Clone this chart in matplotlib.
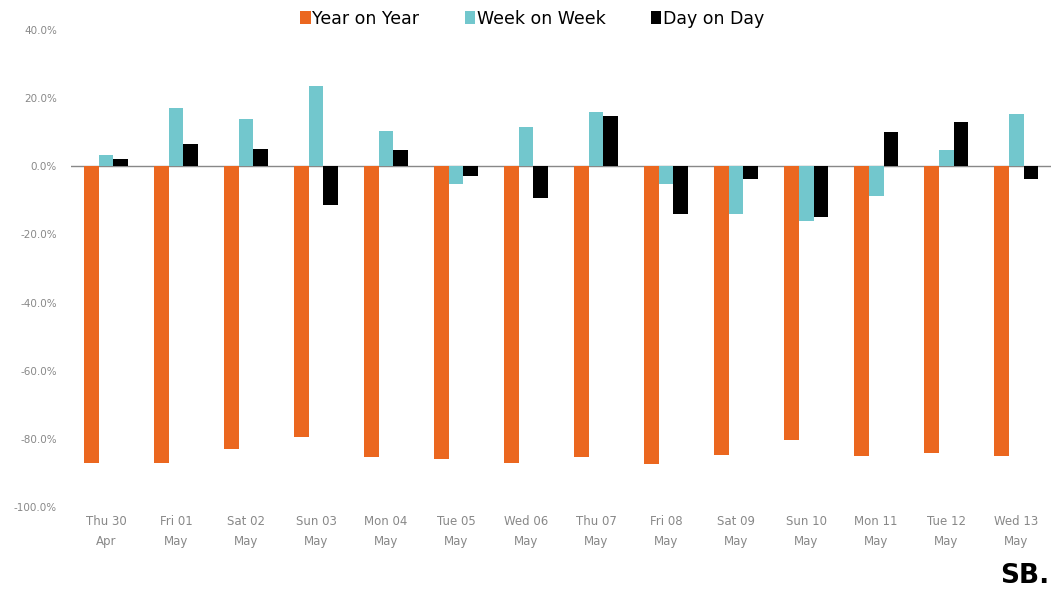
import matplotlib.pyplot as plt
import numpy as np
from matplotlib.ticker import FuncFormatter

days = ['Thu 30\nApr', 'Fri 01\nMay', 'Sat 02\nMay', 'Sun 03\nMay', 'Mon 04\nMay',
        'Tue 05\nMay', 'Wed 06\nMay', 'Thu 07\nMay', 'Fri 08\nMay', 'Sat 09\nMay',
        'Sun 10\nMay', 'Mon 11\nMay', 'Tue 12\nMay', 'Wed 13\nMay']
yoy = [-87.2, -87.2, -82.9, -79.3, -85.4, -85.9, -87.0, -85.3, -87.4, -84.7,
       -80.3, -84.9, -84.2, -84.9]
wow = [3.2, 17.0, 14.0, 23.4, 10.3, -5.3, 11.5, 15.9, -5.2, -13.9, -16.0,
       -8.6, 4.8, 15.3]
dod = [2.0, 6.5, 5.2, -11.5, 4.8, -2.8, -9.2, 14.6, -13.9, -3.7, -14.9,
       9.9, 12.9, -3.7]

orange = '#EB671F'
teal = '#72C7CD'

fig = plt.figure(figsize=(10.58, 5.98), dpi=100)
ax = fig.add_axes([0.0671, 0.152, 0.9263, 0.798])

x = np.arange(len(days))
w = 0.214
ax.bar(x - w, yoy, w, color=orange, label='Year on Year')
ax.bar(x, wow, w, color=teal, label='Week on Week')
ax.bar(x + w, dod, w, color='black', label='Day on Day')

ax.axhline(0, color='#888888', lw=1, zorder=0)
ax.set_xlim(-0.5, len(days) - 0.5)
ax.set_ylim(-100, 40)
ax.set_yticks(np.arange(-100, 41, 20))
ax.yaxis.set_major_formatter(FuncFormatter(lambda v, p: '%.1f%%' % v))
ax.set_xticks(x)
ax.set_xticklabels(days, fontsize=8.5, color='#888888', linespacing=1.7)
ax.tick_params(axis='y', labelsize=7.5, labelcolor='#888888', length=0, pad=10)
ax.tick_params(axis='x', length=0, pad=6)
for s in ax.spines.values():
    s.set_visible(False)

fig.legend(loc='upper center', bbox_to_anchor=(0.503, 1.01), ncol=3, frameon=False,
           fontsize=12.5, handlelength=0.6, handleheight=0.8, handletextpad=0.1,
           columnspacing=2.6)

fig.text(0.992, 0.015, 'SB.', fontsize=19, fontweight='bold', ha='right', va='bottom',
         family=['Liberation Sans Narrow', 'DejaVu Sans'])

plt.savefig('out.png', dpi=100)
